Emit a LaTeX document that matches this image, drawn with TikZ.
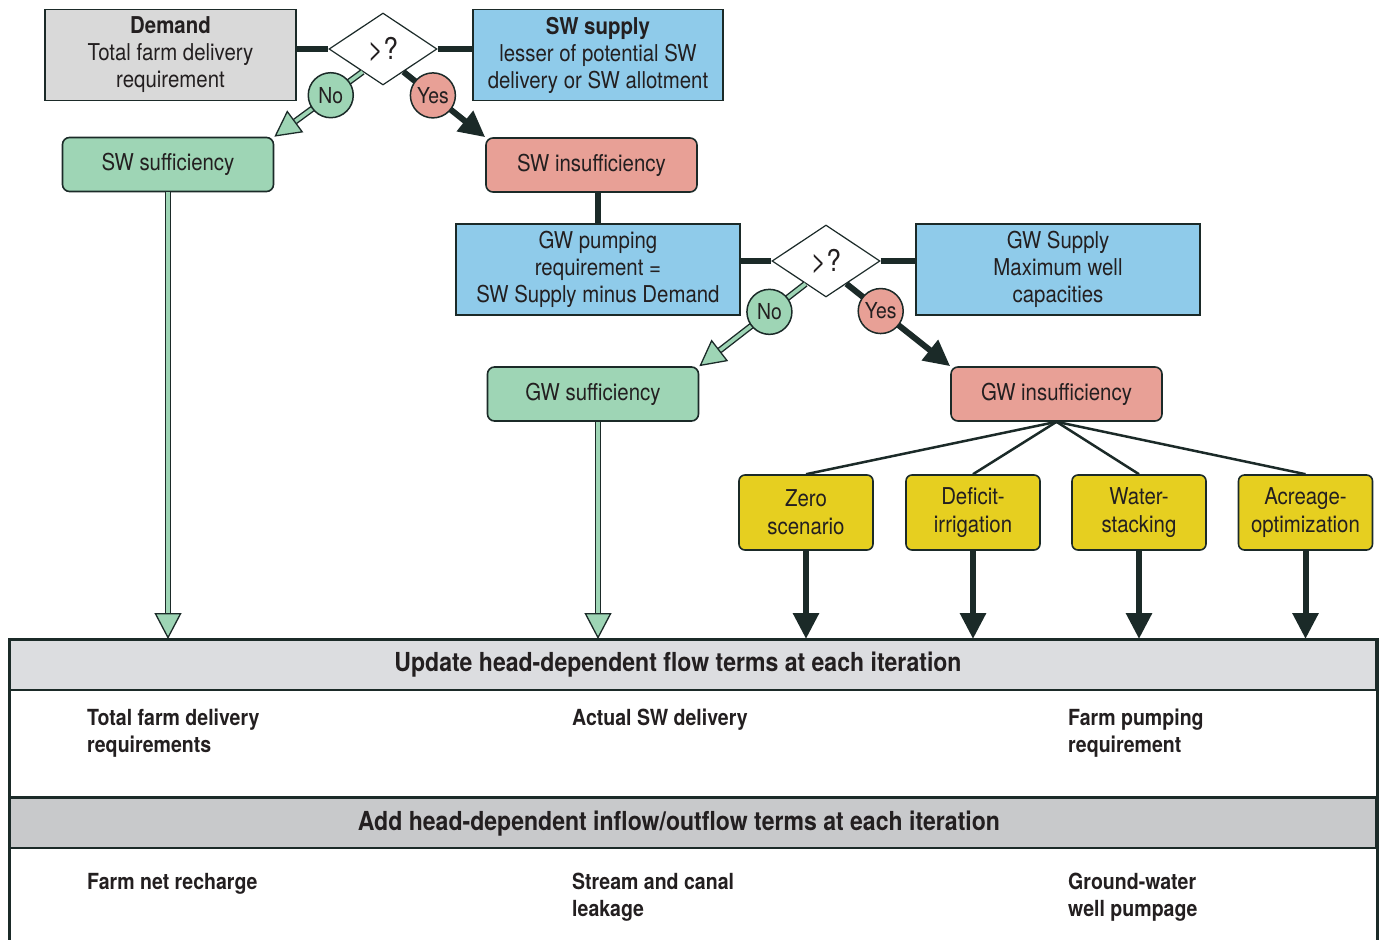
\documentclass[tikz,border=0pt]{standalone}
\usepackage{fontspec}
\setmainfont{TeX Gyre Heros}[FakeStretch=0.88]
\usepackage{tikz}
\usetikzlibrary{shapes,arrows.meta,positioning,calc}
\definecolor{darkline}{RGB}{27, 42, 40}
\definecolor{textdark}{RGB}{35, 31, 32}
\definecolor{demandgray}{RGB}{217, 217, 217}
\definecolor{supplyblue}{RGB}{143, 203, 234}
\definecolor{sufgreen}{RGB}{158, 213, 181}
\definecolor{insufred}{RGB}{232, 160, 150}
\definecolor{optyellow}{RGB}{230, 207, 32}
\definecolor{headgrayA}{RGB}{220, 221, 224}
\definecolor{headgrayB}{RGB}{200, 201, 203}
\tikzstyle{inbox} = [rectangle, draw=darkline, line width=1.2pt, text=textdark, align=center, font=\fontsize{23.2}{27}\selectfont, minimum height=91pt, inner sep=0pt]
\tikzstyle{demandbox} = [inbox, fill=demandgray, minimum width=251pt]
\tikzstyle{supplybox} = [inbox, fill=supplyblue]
\tikzstyle{state} = [rectangle, rounded corners=7pt, draw=darkline, line width=1.6pt, text=textdark, minimum width=211pt, minimum height=54pt, font=\fontsize{23.2}{27}\selectfont]
\tikzstyle{suf} = [state, fill=sufgreen]
\tikzstyle{insuf} = [state, fill=insufred]
\tikzstyle{option} = [rectangle, rounded corners=6pt, draw=darkline, line width=1.6pt, fill=optyellow, text=textdark, minimum width=134pt, minimum height=75pt, align=center, font=\fontsize{23.2}{28}\selectfont]
\tikzstyle{test} = [diamond, draw=darkline, line width=1.2pt, fill=white, minimum width=108pt, minimum height=72pt, inner sep=0pt, text=textdark, font=\fontsize{30}{30}\selectfont]
\tikzstyle{nocirc} = [circle, draw=darkline, line width=1.5pt, fill=sufgreen, minimum size=45pt, inner sep=0pt, text=textdark, font=\fontsize{22}{22}\selectfont]
\tikzstyle{yescirc} = [nocirc, fill=insufred]
\tikzstyle{tline} = [draw=darkline, line width=6pt]
\tikzstyle{tedge} = [tline, -{Triangle[length=26pt, width=25pt]}]
\tikzstyle{gedge} = [draw=darkline, line width=1.4pt, double=sufgreen, double distance=3.6pt, -{Triangle[fill=sufgreen, length=26pt, width=27pt, line width=1.3pt]}]
\tikzstyle{branch} = [draw=darkline, line width=2.5pt]
\tikzstyle{headbar} = [rectangle, draw=darkline, line width=2pt, minimum width=1366pt, minimum height=50pt, inner sep=0pt]
\tikzstyle{headtext} = [text=textdark, font=\bfseries\fontsize{26.2}{26}\selectfont]
\tikzstyle{item} = [anchor=north west, align=left, inner sep=0pt, text=textdark, font=\bfseries\fontsize{22.2}{27}\selectfont]

\begin{document}
\begin{tikzpicture}[x=1pt, y=-1pt]
\useasboundingbox (0,0) rectangle (1380,939);

% surface water =============================
\node[demandbox] (demand) at (170.5,55) {\textbf{Demand}\\Total farm delivery\\requirement};
\node[test] (dec1) at (383,49) {>?};
\node[supplybox, minimum width=250pt] (swsup) at (598,55) {\textbf{SW supply}\\lesser of potential SW\\delivery or SW allotment};
\node[suf] (swsuf) at (168,164.5) {SW sufficiency};
\node[insuf] (swinsuf) at (591.5,165) {SW insufficiency};

% ground water
\node[supplybox, minimum width=284pt] (gwreq) at (598,269.5) {GW pumping\\requirement =\\SW Supply minus Demand};
\node[test] (dec2) at (826,261) {>?};
\node[supplybox, minimum width=284pt] (gwsup) at (1058,269.5) {GW Supply\\Maximum well\\capacities};
\node[suf] (gwsuf) at (593,394) {GW sufficiency};
\node[insuf] (gwinsuf) at (1056.5,394) {GW insufficiency};

% options
\node[option] (zero) at (806,512.5) {Zero\\scenario};
\node[option] (deficit) at (973,512.5) {Deficit-\\irrigation};
\node[option] (stack) at (1139,512.5) {Water-\\stacking};
\node[option] (acre) at (1305.5,512.5) {Acreage-\\optimization};

% iteration panel ==========================
\node[headbar, fill=headgrayA] (upd) at (693,665) {};
\node[headtext] (updtxt) at (678,665) {Update head-dependent flow terms at each iteration};
\node[headbar, fill=headgrayB] (add) at (693,823) {};
\node[headtext] (addtxt) at (679,824) {Add head-dependent inflow/outflow terms at each iteration};
\coordinate (pbottom) at (693,950);
\path[draw=darkline, line width=3pt] (upd.north west |- pbottom) -- (upd.north west) -- (upd.north east) -- (upd.north east |- pbottom);
\path[draw=darkline, line width=3pt] (add.north west) -- (add.north east);

\node[item] (tfd) at (87,709) {Total farm delivery\\requirements};
\node[item] (asw) at (572,709) {Actual SW delivery};
\node[item] (fpr) at (1068,709) {Farm pumping\\requirement};
\node[item] (fnr) at (87,873) {Farm net recharge};
\node[item] (scl) at (572,873) {Stream and canal\\leakage};
\node[item] (gww) at (1068,873) {Ground-water\\well pumpage};

% edges
\path[tline] (dec1.west -| demand.east) -- (dec1.west);
\path[tline] (dec1.east) -- (dec1.east -| swsup.west);
\path[gedge] ($(dec1.south west)!0.25!(dec1.south)$) -- node[nocirc, pos=0.36] (no1) {No} (swsuf.north east);
\path[tedge] ($(dec1.south east)!0.25!(dec1.south)$) -- node[yescirc, pos=0.36] (yes1) {Yes} (swinsuf.north west);
\path[tline] (gwreq.north) -- (gwreq.north |- swinsuf.south);

\path[tline] (dec2.west -| gwreq.east) -- (dec2.west);
\path[tline] (dec2.east) -- (dec2.east -| gwsup.west);
\path[gedge] ($(dec2.south west)!0.25!(dec2.south)$) -- node[nocirc, pos=0.34] (no2) {No} (gwsuf.north east);
\path[tedge] ($(dec2.south east)!0.25!(dec2.south)$) -- node[yescirc, pos=0.33] (yes2) {Yes} (gwinsuf.north west);

\foreach \opt in {zero, deficit, stack, acre} {
  \path[branch] (gwinsuf.south) -- (\opt.north);
  \path[tedge] (\opt.south) -- (\opt.south |- upd.north);
}
\path[gedge] (swsuf.south) -- (swsuf.south |- upd.north);
\path[gedge] (gwsuf.south -| gwreq.north) -- (gwreq.north |- upd.north);

\end{tikzpicture}
\end{document}
